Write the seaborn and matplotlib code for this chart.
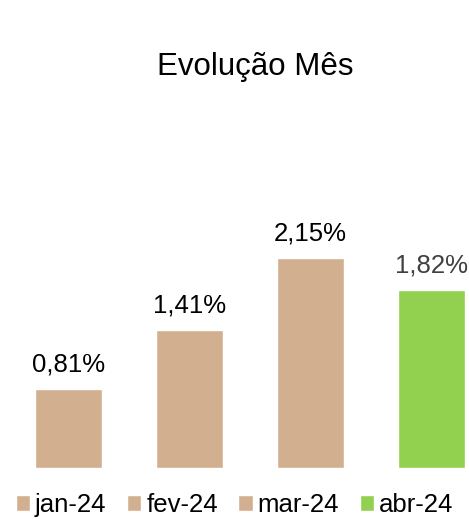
import pandas as pd
import matplotlib.pyplot as plt
import seaborn as sns

# dados
meses = ['jan-24', 'fev-24', 'mar-24', 'abr-24']
valores = [0.81, 1.41, 2.15, 1.82]
cores = ['#D2B08F', '#D2B08F', '#D2B08F', '#92D050']

df = pd.DataFrame({'mes': meses, 'valor': valores})

sns.set_theme(style='white')
plt.rcParams['font.family'] = ['Liberation Sans', 'DejaVu Sans']
plt.rcParams['text.color'] = 'black'

fig = plt.figure(figsize=(4.69, 5.19), dpi=100)
ax = fig.add_axes([0, 51 / 519, 1, 368 / 519])

sns.barplot(data=df, x='mes', y='valor', hue='mes', palette=dict(zip(meses, cores)),
            width=0.555, saturation=1, legend=True, ax=ax)

# escala: 121 px por categoria, primeira barra centrada em x=68.5
a = -68.5 / 121
ax.set_xlim(a, a + 469 / 121)
ax.set_ylim(0, 368 / 97.7)
ax.axis('off')

# rótulos com vírgula decimal
for i, cont in enumerate(ax.containers):
    lbl = [f'{v:.2f}'.replace('.', ',') + '%' for v in cont.datavalues]
    cor = '#404040' if meses[i] == 'abr-24' else 'black'
    ax.bar_label(cont, labels=lbl, padding=9, fontsize=18.5, color=cor)

fig.text(255.5 / 469, 1 - 75 / 519, 'Evolução Mês', ha='center', va='baseline',
         fontsize=22.5, color='black')

sns.move_legend(ax, 'center', bbox_to_anchor=(0.5, 1 - 505 / 519), bbox_transform=fig.transFigure,
                ncol=4, frameon=False, title=None, fontsize=18.5, labelcolor='black',
                handlelength=0.55, handleheight=0.55, handletextpad=0.2, columnspacing=0.8)

fig.savefig('out.png', dpi=100)
